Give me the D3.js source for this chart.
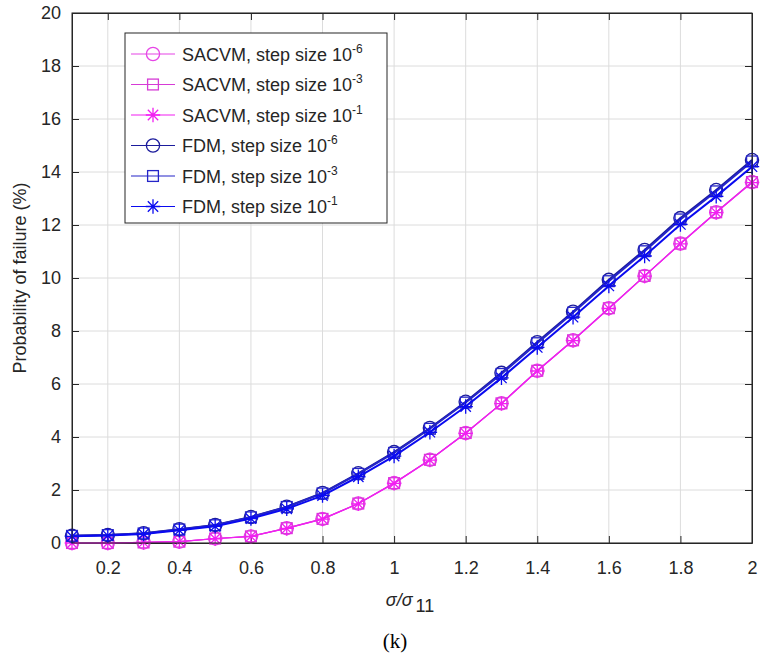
<!DOCTYPE html>
<html>
<head>
<meta charset="utf-8">
<script src="https://cdn.jsdelivr.net/npm/d3@7"></script>
<style>
  body { margin: 0; background: #fff; }
  text { font-family: "Liberation Sans", Arial, sans-serif; fill: #262626; }
</style>
</head>
<body>
<div class="canvas"></div>
<script>
// data
var ratio = [0.1, 0.2, 0.3, 0.4, 0.5, 0.6, 0.7, 0.8, 0.9, 1.0, 1.1, 1.2, 1.3, 1.4, 1.5, 1.6, 1.7, 1.8, 1.9, 2.0];
var sacvm6 = [0.00, 0.00, 0.02, 0.05, 0.17, 0.25, 0.56, 0.91, 1.49, 2.26, 3.14, 4.15, 5.27, 6.50, 7.65, 8.86, 10.08, 11.30, 12.48, 13.62];
var sacvm3 = [0.00, 0.00, 0.02, 0.05, 0.17, 0.25, 0.56, 0.91, 1.49, 2.26, 3.14, 4.15, 5.27, 6.50, 7.65, 8.86, 10.08, 11.30, 12.48, 13.62];
var sacvm1 = [0.00, 0.00, 0.02, 0.05, 0.16, 0.25, 0.55, 0.90, 1.48, 2.25, 3.13, 4.14, 5.26, 6.49, 7.64, 8.85, 10.07, 11.29, 12.47, 13.60];
var fdm6 = [0.27, 0.30, 0.37, 0.52, 0.68, 0.98, 1.37, 1.89, 2.63, 3.43, 4.34, 5.33, 6.42, 7.58, 8.73, 9.93, 11.06, 12.26, 13.32, 14.45];
var fdm3 = [0.27, 0.30, 0.36, 0.51, 0.67, 0.97, 1.36, 1.87, 2.61, 3.40, 4.31, 5.30, 6.38, 7.54, 8.69, 9.88, 11.01, 12.21, 13.27, 14.40];
var fdm1 = [0.25, 0.28, 0.34, 0.48, 0.63, 0.92, 1.29, 1.79, 2.50, 3.28, 4.18, 5.15, 6.23, 7.38, 8.52, 9.70, 10.83, 12.02, 13.08, 14.20];

var xTicks = [0.2, 0.4, 0.6, 0.8, 1, 1.2, 1.4, 1.6, 1.8, 2];
var yTicks = [0, 2, 4, 6, 8, 10, 12, 14, 16, 18, 20];

var seriesNames = ["SACVM, step size 10", "SACVM, step size 10", "SACVM, step size 10",
                   "FDM, step size 10", "FDM, step size 10", "FDM, step size 10"];
var exponents = ["-6", "-3", "-1", "-6", "-3", "-1"];
var seriesValues = [sacvm6, sacvm3, sacvm1, fdm6, fdm3, fdm1];
var markers = ["circle", "square", "star", "circle", "square", "star"];
var colors = ["#e645e6", "#d63bd6", "#f21ff2", "#1c1c9c", "#2525c8", "#0a0af0"];
var widths = [1.2, 1.2, 1.2, 2, 2, 2];

var W = 762, H = 658;
var pLeft = 72, pRight = 752, pTop = 13, pBottom = 543;

var svg = d3.select(".canvas")
            .append("svg")
            .attr("width", W)
            .attr("height", H);

var x = d3.scaleLinear().domain([0.1, 2]).range([pLeft, pRight]);
var y = d3.scaleLinear().domain([0, 20]).range([pBottom, pTop]);

// grid
svg.append("g")
   .selectAll("line")
   .data(xTicks)
   .enter().append("line")
   .attr("x1", d => x(d)).attr("x2", d => x(d))
   .attr("y1", pTop).attr("y2", pBottom)
   .attr("stroke", "#dcdcdc").attr("stroke-width", 1);

svg.append("g")
   .selectAll("line")
   .data(yTicks)
   .enter().append("line")
   .attr("x1", pLeft).attr("x2", pRight)
   .attr("y1", d => y(d)).attr("y2", d => y(d))
   .attr("stroke", "#dcdcdc").attr("stroke-width", 1);

// axes
var fmt = d3.format("~g");

var xAxis = svg.append("g")
   .attr("transform", "translate(0," + pBottom + ")")
   .call(d3.axisBottom(x).tickValues(xTicks).tickFormat(fmt).tickSizeInner(-7).tickSizeOuter(0).tickPadding(18));

var xTop = svg.append("g")
   .attr("transform", "translate(0," + pTop + ")")
   .call(d3.axisTop(x).tickValues(xTicks).tickFormat("").tickSizeInner(-7).tickSizeOuter(0));

var yAxis = svg.append("g")
   .attr("transform", "translate(" + pLeft + ",0)")
   .call(d3.axisLeft(y).tickValues(yTicks).tickFormat(fmt).tickSizeInner(-7).tickSizeOuter(0).tickPadding(11));

var yRight = svg.append("g")
   .attr("transform", "translate(" + pRight + ",0)")
   .call(d3.axisRight(y).tickValues(yTicks).tickFormat("").tickSizeInner(-7).tickSizeOuter(0));

[xAxis, xTop, yAxis, yRight].forEach(function(g){
  g.select(".domain").attr("stroke", "#262626");
  g.selectAll(".tick line").attr("stroke", "#262626");
  g.selectAll(".tick text").attr("font-size", 18).attr("fill", "#262626")
   .attr("font-family", "Liberation Sans, Arial, sans-serif");
});

// markers
function drawMarker(g, type, cx, cy, color, s) {
  if (type == "circle") {
    g.append("circle").attr("cx", cx).attr("cy", cy).attr("r", s * 0.55)
     .attr("fill", "none").attr("stroke", color).attr("stroke-width", 1.3);
  } else if (type == "square") {
    g.append("rect").attr("x", cx - s * 0.45).attr("y", cy - s * 0.45)
     .attr("width", s * 0.9).attr("height", s * 0.9)
     .attr("fill", "none").attr("stroke", color).attr("stroke-width", 1.3);
  } else {
    var r = s * 0.6, d = r * 0.72;
    g.append("path")
     .attr("d", "M" + cx + "," + (cy - r) + "V" + (cy + r) +
                "M" + (cx - r) + "," + cy + "H" + (cx + r) +
                "M" + (cx - d) + "," + (cy - d) + "L" + (cx + d) + "," + (cy + d) +
                "M" + (cx - d) + "," + (cy + d) + "L" + (cx + d) + "," + (cy - d))
     .attr("stroke", color).attr("stroke-width", 1.3).attr("fill", "none");
  }
}

var line = d3.line()
   .x((d, i) => x(ratio[i]))
   .y(d => y(d));

var plot = svg.append("g");

seriesValues.forEach(function(vals, k){
  plot.append("path")
      .datum(vals)
      .attr("d", line)
      .attr("fill", "none")
      .attr("stroke", colors[k])
      .attr("stroke-width", widths[k]);

  var mg = plot.append("g");
  vals.forEach(function(v, i){
    drawMarker(mg, markers[k], x(ratio[i]), y(v), colors[k], 12);
  });
});

// box
svg.append("rect")
   .attr("x", pLeft).attr("y", pTop)
   .attr("width", pRight - pLeft).attr("height", pBottom - pTop)
   .attr("fill", "none").attr("stroke", "#262626").attr("stroke-width", 1);

// LEGEND
var lg = svg.append("g");
var lx = 125, ly = 33, rowH = 30.5;

lg.append("rect")
  .attr("x", lx).attr("y", ly)
  .attr("width", 262).attr("height", 190)
  .attr("fill", "#fff").attr("stroke", "#262626").attr("stroke-width", 1);

seriesNames.forEach(function(name, k){
  var cy = ly + 21 + k * rowH;
  lg.append("line")
    .attr("x1", lx + 6).attr("x2", lx + 50)
    .attr("y1", cy).attr("y2", cy)
    .attr("stroke", colors[k]).attr("stroke-width", 1.2);
  drawMarker(lg, markers[k], lx + 28, cy, colors[k], 12);

  var t = lg.append("text")
    .attr("x", lx + 57).attr("y", cy + 6.5)
    .attr("font-size", 18);
  t.append("tspan").text(name);
  t.append("tspan").attr("font-size", 12).attr("dy", -8).text(exponents[k]);
});

// axis labels
svg.append("text")
   .attr("transform", "translate(26," + ((pTop + pBottom) / 2) + ") rotate(-90)")
   .attr("text-anchor", "middle")
   .attr("font-size", 18)
   .text("Probability of failure (%)");

var xl = svg.append("text")
   .attr("x", 410).attr("y", 606)
   .attr("text-anchor", "middle")
   .attr("font-size", 18);
xl.append("tspan").attr("font-style", "italic").text("σ/σ");
xl.append("tspan").attr("dx", 3).attr("dy", 6).text("11");

svg.append("text")
   .attr("x", 395).attr("y", 648)
   .attr("text-anchor", "middle")
   .style("font-family", "Liberation Serif, serif")
   .attr("font-size", 21)
   .style("fill", "#000")
   .text("(k)");
</script>
</body>
</html>
